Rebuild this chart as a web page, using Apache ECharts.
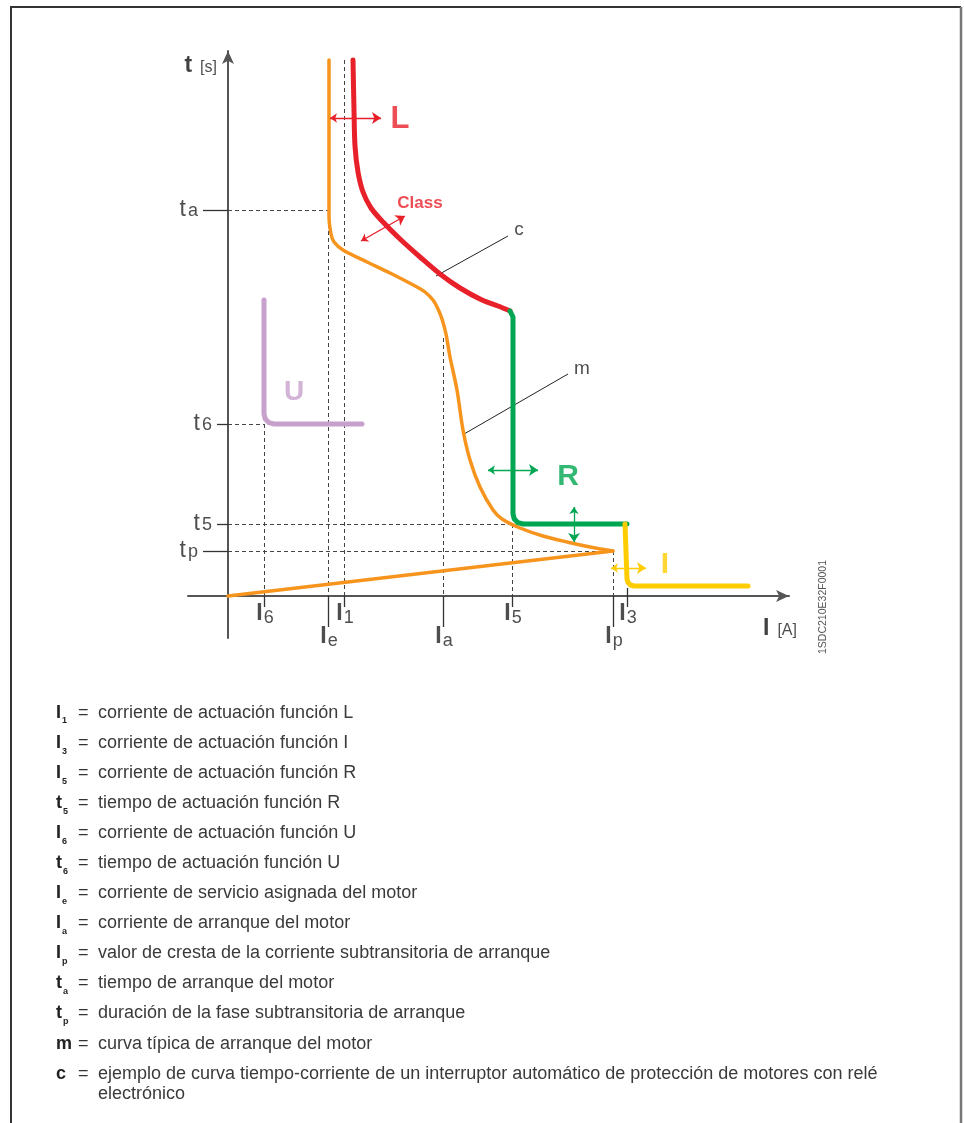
<!DOCTYPE html>
<html>
<head>
<meta charset="utf-8">
<title>Curva tiempo-corriente - protección de motores</title>
<script src="https://cdn.jsdelivr.net/npm/echarts@6/dist/echarts.min.js"></script>
<style>
html, body { margin: 0; padding: 0; background: #fff; }
#main { width: 964px; height: 1123px; }
</style>
</head>
<body>
<div id="main"></div>
<script>
// valores del esquema (unidades arbitrarias, sin escala numérica)
var xTickNames  = ['6', 'e', '1', 'a', '5', 'p', '3'];
var xTickValues = [36, 100, 116, 215, 284, 385, 399];
var yTickNames  = ['a', '6', '5', 'p'];
var yTickValues = [386, 172, 72, 45];

// curva m: subida subtransitoria y curva de arranque
var mRise  = [[0, 0], [385, 45]];
var mCurve = [[385, 45], [362, 49], [339, 54], [315, 60], [292, 68], [274, 77], [265, 86],
              [252, 109], [242, 136], [235, 166], [229, 206], [222, 239], [218, 262],
              [214, 277], [210, 287], [205, 296], [197, 304], [189, 309], [162, 323],
              [139, 334], [115, 346], [106, 354], [103, 362], [101, 380], [101, 536]];
var mAtIa = 258;

// curva c: funciones L, R, I y U
var lCurve = [[125, 536], [126, 486], [127, 450], [130, 424], [135, 404], [143, 388],
              [155, 374], [172, 357], [192, 339], [212, 322], [232, 308], [254, 296], [270, 290], [282, 285]];
var rCurve = [[282, 285], [284, 283], [285, 279], [285, 82], [286.3, 77], [290, 73.3], [295, 72], [399, 72]];
var iCurve = [[397, 72], [399, 70], [399, 17], [400, 13.5], [402.5, 11], [406, 10], [520, 10]];
var uCurve = [[36, 296], [36, 182], [37.3, 177], [41, 173.3], [46, 172], [134, 172]];

// flechas de ajuste y líneas de referencia
var lArrow     = [[102, 478], [153, 478]];
var classArrow = [[133, 355], [177, 380]];
var rArrowH    = [[260, 126], [310, 126]];
var rArrowV    = [[346, 89], [346, 54]];
var iArrow     = [[383, 28], [418, 28]];
var cLeader    = [[208, 320], [280, 360]];
var mLeader    = [[236, 162], [340, 222]];

// leyenda
var legendKeys = ['I', 'I', 'I', 't', 'I', 't', 'I', 'I', 'I', 't', 't', 'm', 'c'];
var legendSubs = ['1', '3', '5', '5', '6', '6', 'e', 'a', 'p', 'a', 'p', '', ''];
var legendTexts = [
  'corriente de actuación función L',
  'corriente de actuación función I',
  'corriente de actuación función R',
  'tiempo de actuación función R',
  'corriente de actuación función U',
  'tiempo de actuación función U',
  'corriente de servicio asignada del motor',
  'corriente de arranque del motor',
  'valor de cresta de la corriente subtransitoria de arranque',
  'tiempo de arranque del motor',
  'duración de la fase subtransitoria de arranque',
  'curva típica de arranque del motor',
  'ejemplo de curva tiempo-corriente de un interruptor automático de protección de motores con relé\nelectrónico'
];

var FONT = '"Liberation Sans", Arial, Helvetica, sans-serif';
var myChart = echarts.init(document.getElementById('main'));

var xv = {}, yv = {};
xTickNames.forEach(function (n, i) { xv[n] = xTickValues[i]; });
yTickNames.forEach(function (n, i) { yv[n] = yTickValues[i]; });
var topY = lCurve[0][1];

var guides = [
  [[0, yv.a], [xv.e, yv.a]], [[xv.e, yv.a], [xv.e, 0]],
  [[xv['1'], topY], [xv['1'], 0]],
  [[0, yv['6']], [xv['6'], yv['6']]], [[xv['6'], yv['6']], [xv['6'], 0]],
  [[xv.a, mAtIa], [xv.a, 0]],
  [[0, yv['5']], [xv['5'], yv['5']]], [[xv['5'], yv['5']], [xv['5'], 0]],
  [[0, yv.p], [xv.p, yv.p]], [[xv.p, yv.p], [xv.p, 0]]
];

var lowRow = ['e', 'a', 'p'];
var ticks = [];
xTickNames.forEach(function (n) {
  var low = lowRow.indexOf(n) >= 0;
  ticks.push([[xv[n], n === '3' ? 8 : 0], [xv[n], low ? -31 : -11]]);
});
var longY = ['a', 'p'];
yTickNames.forEach(function (n) {
  ticks.push([[0, yv[n]], [longY.indexOf(n) >= 0 ? -25 : -11, yv[n]]]);
});

function seg(list) { return list.map(function (c) { return { coords: c }; }); }

function curve(data, color, width) {
  return {
    type: 'line', data: data, symbol: 'none', smooth: false, clip: false, z: 4,
    lineStyle: { color: color, width: width, cap: 'round', join: 'round' }
  };
}
function arrows(list, color) {
  return {
    type: 'lines', coordinateSystem: 'cartesian2d', z: 5, clip: false,
    symbol: ['arrow', 'arrow'], symbolSize: [7, 9],
    lineStyle: { color: color, width: 1.3, opacity: 1 },
    data: seg(list)
  };
}

var rich = {
  i: { fontFamily: FONT, fontSize: 23, fontWeight: 'bold', color: '#222' },
  s: { fontFamily: FONT, fontSize: 18, color: '#222', padding: [9, 0, 0, 1] },
  t: { fontFamily: FONT, fontSize: 23, color: '#222' },
  u: { fontFamily: FONT, fontSize: 18, color: '#222', padding: [3, 0, 0, 2] },
  b: { fontFamily: FONT, fontSize: 23, fontWeight: 'bold', color: '#111' },
  n: { fontFamily: FONT, fontSize: 16, color: '#222', padding: [3, 0, 0, 8] }
};

var texts = [];
xTickNames.forEach(function (n) {
  var low = lowRow.indexOf(n) >= 0;
  texts.push({ value: [xv[n] + 1, low ? -40.5 : -17.5],
    label: { position: 'inside', formatter: '{i|I}{s|' + n + '}' } });
});
yTickNames.forEach(function (n) {
  texts.push({ value: [longY.indexOf(n) >= 0 ? -25 : -11, yv[n]],
    label: { position: 'left', distance: 5, formatter: '{t|t}{u|' + n + '}' } });
});
texts.push({ value: [-11, 530], label: { position: 'left', distance: 0, formatter: '{b|t}{n|[s]}' } });
texts.push({ value: [535, -33], label: { position: 'right', distance: 0, formatter: '{b|I}{n|[A]}' } });

function tag(x, y, txt, color, size, weight) {
  return { value: [x, y], label: { position: 'inside', formatter: txt, rich: {},
    color: color, fontSize: size, fontWeight: weight, fontFamily: FONT } };
}
texts.push(tag(172, 477, 'L', '#e8202a', 31, 'bold'));
texts.push(tag(192, 393, 'Class', '#e8202a', 17, 'bold'));
texts.push(tag(340, 119, 'R', '#00a651', 30, 'bold'));
texts.push(tag(437, 31, 'I', '#ffcc00', 30, 'bold'));
texts.push(tag(66, 204, 'U', '#c8a0cc', 28, 'bold'));
texts.push(tag(291, 366, 'c', '#222', 19, 'normal'));
texts.push(tag(354, 227, 'm', '#222', 19, 'normal'));

var graphic = [
  { type: 'polyline', shape: { points: [[11, 1123], [11, 7], [961, 7]] },
    style: { stroke: '#333', lineWidth: 2, fill: null } },
  { type: 'line', shape: { x1: 961, y1: 7, x2: 961, y2: 1123 },
    style: { stroke: '#777', lineWidth: 2.5 } },
  { type: 'text', x: 823, y: 607, rotation: Math.PI / 2,
    style: { text: '1SDC210E32F0001', font: '10.5px ' + FONT, fill: '#555',
      textAlign: 'center', textVerticalAlign: 'middle', align: 'center', verticalAlign: 'middle' } }
];
legendKeys.forEach(function (k, i) {
  var y = 713 + 30.05 * i;
  var base = { textVerticalAlign: 'middle', verticalAlign: 'middle', textAlign: 'left', align: 'left' };
  graphic.push({ type: 'text', x: 56, y: y,
    style: Object.assign({ text: k, font: 'bold 18px ' + FONT, fill: '#222' }, base) });
  if (legendSubs[i]) {
    graphic.push({ type: 'text', x: k === 't' ? 63 : 62, y: y + 8,
      style: Object.assign({ text: legendSubs[i], font: 'bold 9px ' + FONT, fill: '#222' }, base) });
  }
  graphic.push({ type: 'text', x: 78, y: y,
    style: Object.assign({ text: '=', font: '18px ' + FONT, fill: '#333' }, base) });
  graphic.push({ type: 'text', x: 98, y: y - 10,
    style: { text: legendTexts[i], font: '18px ' + FONT, fill: '#3a3a3a', lineHeight: 20,
      textVerticalAlign: 'top', verticalAlign: 'top', textAlign: 'left', align: 'left' } });
});

var axisCommon = {
  type: 'value',
  axisLine: { onZero: true, symbol: ['none', 'arrow'], symbolSize: [9, 13],
    lineStyle: { color: '#555', width: 2 } },
  axisTick: { show: false }, axisLabel: { show: false }, splitLine: { show: false }
};

var option = {
  animation: false,
  backgroundColor: '#fff',
  grid: { left: 188, top: 51, width: 601, height: 587 },
  xAxis: Object.assign({ min: -40, max: 561 }, axisCommon),
  yAxis: Object.assign({ min: -42, max: 545 }, axisCommon),
  graphic: graphic,
  series: [
    { type: 'lines', coordinateSystem: 'cartesian2d', z: 2, clip: false,
      lineStyle: { color: '#444', width: 1, type: [4, 3], opacity: 1 }, data: seg(guides) },
    { type: 'lines', coordinateSystem: 'cartesian2d', z: 2, clip: false,
      lineStyle: { color: '#333', width: 1.3, opacity: 1 }, data: seg(ticks) },
    { type: 'lines', coordinateSystem: 'cartesian2d', z: 3, clip: false,
      lineStyle: { color: '#222', width: 1, opacity: 1 }, data: seg([cLeader, mLeader]) },
    curve(mRise, '#f7941d', 3.5),
    Object.assign(curve(mCurve, '#f7941d', 3.5), { smooth: 0.3 }),
    Object.assign(curve(lCurve, '#e8202a', 5), { smooth: 0.3 }),
    curve(rCurve, '#00a651', 5),
    curve(iCurve, '#ffcc00', 5),
    curve(uCurve, '#c8a0cc', 5),
    arrows([lArrow, classArrow], '#e8202a'),
    arrows([rArrowH, rArrowV], '#00a651'),
    arrows([iArrow], '#ffcc00'),
    { type: 'scatter', symbolSize: 0, clip: false, z: 6, silent: true,
      itemStyle: { color: 'transparent' },
      label: { show: true, rich: rich, color: '#222' },
      data: texts }
  ]
};

myChart.setOption(option);
</script>
</body>
</html>
